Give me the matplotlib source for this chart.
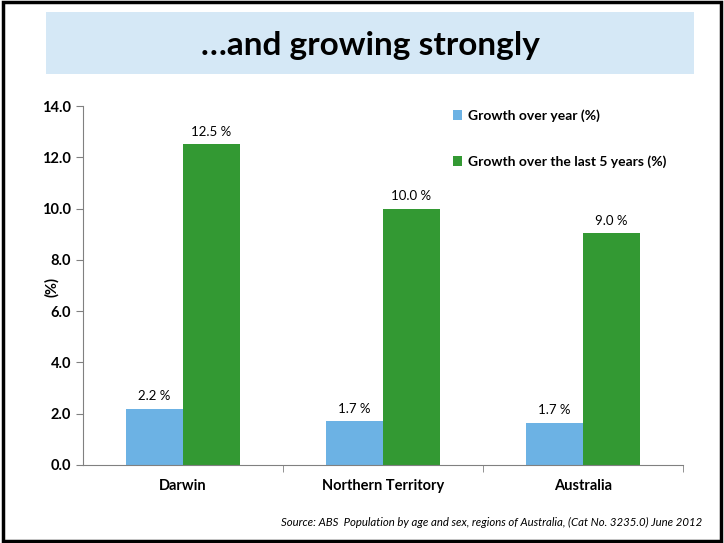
import matplotlib.pyplot as plt
from matplotlib import rcParams
from matplotlib.patches import Rectangle
import numpy as np

rcParams['font.family'] = ['Lato', 'DejaVu Sans']

categories = ['Darwin', 'Northern Territory', 'Australia']
growth_year = [2.2, 1.7, 1.65]
growth_5yr = [12.5, 10.0, 9.05]
labels_year = ['2.2 %', '1.7 %', '1.7 %']
labels_5yr = ['12.5 %', '10.0 %', '9.0 %']
yticks = [0, 2, 4, 6, 8, 10, 12, 14]

fig = plt.figure(figsize=(7.24, 5.43), dpi=100)

# slide border
fig.patches.append(Rectangle((0.004, 0.004), 0.992, 0.992, transform=fig.transFigure,
                             fill=False, edgecolor='black', linewidth=2.5))
# title box
fig.patches.append(Rectangle((46 / 724, 1 - 74 / 543), 648 / 724, 62 / 543, transform=fig.transFigure,
                             facecolor='#D5E8F6', edgecolor='none'))
fig.text(370 / 724, 1 - 45 / 543, '…and growing strongly', ha='center', va='center',
         fontsize=24, fontweight='bold')

ax = fig.add_axes([83 / 724, 1 - 465 / 543, 600 / 724, 359 / 543])
x = np.arange(len(categories))
w = 0.285
b1 = ax.bar(x - w / 2, growth_year, w, color='#6CB2E4', label='Growth over year (%)')
b2 = ax.bar(x + w / 2, growth_5yr, w, color='#339933', label='Growth over the last 5 years (%)')
for bar, lab in zip(b1, labels_year):
    ax.text(bar.get_x() + bar.get_width() / 2, bar.get_height() + 0.25, lab,
            ha='center', va='bottom', fontsize=9.5)
for bar, lab in zip(b2, labels_5yr):
    ax.text(bar.get_x() + bar.get_width() / 2, bar.get_height() + 0.25, lab,
            ha='center', va='bottom', fontsize=9.5)

ax.set_xlim(-0.5, 2.5)
ax.set_ylim(0, 14)
ax.set_yticks(yticks)
ax.set_yticklabels(['%.1f' % v for v in yticks], fontweight='bold', fontsize=10.5)
ax.set_xticks(x)
ax.set_xticklabels(categories, fontweight='bold', fontsize=10.5)
ax.tick_params(axis='x', length=0, pad=10)
ax.set_xticks([0.5, 1.5, 2.5], minor=True)
ax.tick_params(axis='x', which='minor', length=5, color='#808080')
ax.tick_params(axis='y', length=5, color='#808080')
ax.spines['top'].set_visible(False)
ax.spines['right'].set_visible(False)
ax.spines['left'].set_color('#808080')
ax.spines['bottom'].set_color('#808080')
fig.text(52 / 724, 1 - 287 / 543, '(%)', rotation=90, ha='center', va='center',
         fontweight='bold', fontsize=10.5)

leg = ax.legend(loc='upper left', bbox_to_anchor=(0.595, 1.025), frameon=False,
                prop={'weight': 'bold', 'size': 10}, handlelength=0.7, handleheight=0.7,
                labelspacing=2.4, handletextpad=0.4)

fig.text(702 / 724, 1 - 522 / 543,
         'Source: ABS  Population by age and sex, regions of Australia, (Cat No. 3235.0) June 2012',
         ha='right', va='center', fontsize=8.2, style='italic')

fig.savefig('out.png', dpi=100)
